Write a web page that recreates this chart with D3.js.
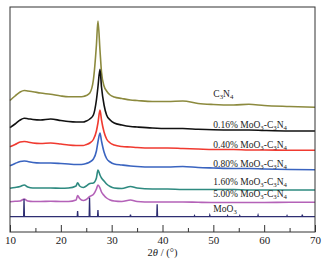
<!DOCTYPE html>
<html>
<head>
<meta charset="utf-8">
<script src="https://cdn.jsdelivr.net/npm/d3@7"></script>
<style>
  body { margin: 0; background: #fff; }
  svg text { font-family: "Liberation Serif", "DejaVu Serif", serif; fill: #222; }
</style>
</head>
<body>
<div id="chart"></div>
<script>
// 2θ grid (degrees) shared by the C3N4 based patterns
const angles = [10, 11, 12, 12.8, 13.5, 14.5, 16, 18, 20, 21.5, 23, 23.3, 23.7, 24.4, 25, 25.7, 26.4, 27, 27.3, 27.7,
    28, 28.5, 29, 29.7, 30.5, 32, 33.7, 35, 38, 41, 44, 47, 50, 54, 57, 60, 65, 70];

// stacked intensities (a.u.)
const c3n4 = [131.5, 136, 140, 141.5, 141, 140.3, 139, 137.7, 136, 135.3, 135.3, 135.3, 135.3, 135.5, 136.5, 139, 152, 187, 211, 182,
    160, 146, 141, 137, 135, 133.5, 132, 131.5, 130.5, 130.5, 131, 128.5, 127.5, 127, 127.7, 126.5, 125.5, 124.7];
const mo016 = [104.3, 108, 112, 113.7, 113.3, 112.5, 112, 113, 111.5, 110.5, 110, 110, 110, 110, 111, 113, 117, 132, 145, 162.7,
    145, 127, 117, 112, 109, 107, 105.5, 105, 104, 103.5, 103.5, 102.7, 102.2, 102, 102, 101.5, 101, 101];
const mo040 = [85.3, 87.5, 90, 90.5, 90, 89, 88.5, 89, 88, 87, 86.5, 86.5, 86.5, 86.5, 87.5, 89, 92.5, 101, 109, 122,
    112, 100, 93, 89, 87, 85.5, 85, 84.5, 84, 84, 83.5, 83, 82.5, 82.5, 82, 82, 81.7, 81.7];
const mo080 = [66.3, 68.5, 70.5, 71, 70.5, 69.5, 69, 69, 68.5, 68, 67.5, 67.5, 67.5, 67.7, 68.5, 70, 73, 81, 90, 99,
    91, 80, 73.5, 70, 68, 67, 66, 65.5, 65, 65, 65.5, 64.5, 64, 63.5, 63.5, 63, 62.5, 62.3];
const mo160 = [43.7, 44.5, 45.5, 47, 45, 44, 44, 44, 43.7, 44, 46, 49.3, 46, 44.5, 46, 48.5, 49, 54, 62, 57,
    54, 51, 48, 45.5, 44, 43.5, 45.5, 44, 43, 43, 42.5, 42.5, 42.5, 42.5, 42, 42, 42, 42];
const mo500 = [30.3, 30.7, 31, 33, 31, 30.5, 30.5, 30.7, 30.5, 30.5, 32, 36.5, 33.5, 31.5, 32.5, 35.5, 37.5, 43, 47, 44,
    40, 36.5, 34, 32, 31, 30.5, 32, 30.5, 30, 30, 30, 29.7, 29.5, 29.5, 29.5, 29.5, 29.7, 29.7];

// MoO3 reference pattern: baseline and stick peaks
const moo3Base = 15.3;
const moo3Peaks = [12.76, 23.3, 25.65, 27.3, 33.7, 38.95, 46.3, 49.3, 52.8, 55.2, 58.8, 64.5, 67.5];
const moo3Heights = [17.7, 5.7, 19, 6.7, 2, 12.5, 1, 1.5, 1, 1, 1.5, 1, 2];

const xTicks = [10, 20, 30, 40, 50, 60, 70];
const xMinor = [15, 25, 35, 45, 55, 65];

const series = [
    { name: "C3N4", values: c3n4, color: "#8c8a3e" },
    { name: "0.16% MoO3-C3N4", values: mo016, color: "#111111" },
    { name: "0.40% MoO3-C3N4", values: mo040, color: "#f03a30" },
    { name: "0.80% MoO3-C3N4", values: mo080, color: "#3a64c0" },
    { name: "1.60% MoO3-C3N4", values: mo160, color: "#2e8a80" },
    { name: "5.00% MoO3-C3N4", values: mo500, color: "#b462b8" }
];
const labelIntensity = [135, 104, 84.3, 65.3, 47, 34.7, 19.7];

const W = 328, H = 268;
const margin = { top: 7, right: 13, bottom: 36, left: 10 };
const width = W - margin.left - margin.right;
const height = H - margin.top - margin.bottom;

const svg = d3.select("#chart").append("svg")
    .attr("width", W)
    .attr("height", H)
    .append("g")
    .attr("transform", `translate(${margin.left}, ${margin.top})`);

const x = d3.scaleLinear().domain([10, 70]).range([0, width]);
const y = d3.scaleLinear().domain([0, 225]).range([height, 0]);

const line = d3.line()
    .x(d => x(d[0]))
    .y(d => y(d[1]))
    .curve(d3.curveMonotoneX);

series.forEach(s => {
    svg.append("path")
        .datum(angles.map((a, i) => [a, s.values[i]]))
        .attr("fill", "none")
        .attr("stroke", s.color)
        .attr("stroke-width", 1.6)
        .attr("d", line);
});

// MoO3 sticks
const moo3Pts = [[10, moo3Base]];
moo3Peaks.forEach((p, i) => {
    moo3Pts.push([p - 0.08, moo3Base], [p, moo3Base + moo3Heights[i]], [p + 0.08, moo3Base]);
});
moo3Pts.push([70, moo3Base]);
svg.append("path")
    .datum(moo3Pts)
    .attr("fill", "none")
    .attr("stroke", "#2e2e72")
    .attr("stroke-width", 1.3)
    .attr("d", d3.line().x(d => x(d[0])).y(d => y(d[1])));

// 曲線標籤（含下標）
const labels = series.map(s => s.name).concat(["MoO3"]);
labels.forEach((name, i) => {
    const t = svg.append("text")
        .attr("x", x(50.0))
        .attr("y", y(labelIntensity[i]))
        .style("font-size", "9.5px");
    let shift = 0;
    name.split(/(\d)(?=[-N]|$)/).forEach((part, j) => {
        if (!part) return;
        const sub = j % 2 === 1;
        const dy = (sub ? 2 : 0) - shift;
        shift = sub ? 2 : 0;
        t.append("tspan")
            .attr("dy", dy)
            .style("font-size", sub ? "6.8px" : null)
            .text(part);
    });
});

// frame
svg.append("rect")
    .attr("width", width)
    .attr("height", height)
    .attr("fill", "none")
    .attr("stroke", "#333")
    .attr("stroke-width", 1);

svg.append("g")
    .attr("transform", `translate(0, ${height})`)
    .call(d3.axisBottom(x).tickValues(xMinor).tickSize(-4).tickFormat(""))
    .call(g => g.select(".domain").remove())
    .call(g => g.selectAll("line").attr("stroke", "#333"));

svg.append("g")
    .attr("transform", `translate(0, ${height})`)
    .call(d3.axisBottom(x).tickValues(xTicks).tickSize(-7).tickPadding(4))
    .call(g => g.select(".domain").remove())
    .call(g => g.selectAll("line").attr("stroke", "#333"))
    .selectAll("text")
    .style("font-family", "'Liberation Serif', serif")
    .style("font-size", "11px")
    .attr("fill", "#222");

const title = svg.append("text")
    .attr("x", width / 2)
    .attr("y", height + 24)
    .attr("text-anchor", "middle")
    .style("font-size", "10.5px");
title.append("tspan").text("2");
title.append("tspan").style("font-style", "italic").text("θ");
title.append("tspan").text(" / (°)");
</script>
</body>
</html>
